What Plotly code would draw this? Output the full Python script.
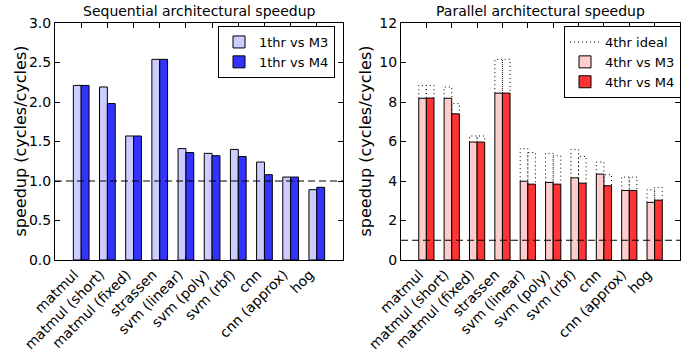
import numpy as np
import plotly.graph_objects as go

categories = ["matmul", "matmul (short)", "matmul (fixed)", "strassen", "svm (linear)",
              "svm (poly)", "svm (rbf)", "cnn", "cnn (approx)", "hog"]

seq_m3 = [2.21, 2.19, 1.57, 2.54, 1.41, 1.35, 1.40, 1.24, 1.05, 0.89]
seq_m4 = [2.21, 1.98, 1.57, 2.54, 1.36, 1.32, 1.31, 1.08, 1.05, 0.92]

par_m3 = [8.19, 8.19, 5.97, 8.45, 3.99, 3.93, 4.16, 4.35, 3.52, 2.92]
par_m4 = [8.20, 7.40, 5.97, 8.45, 3.84, 3.84, 3.89, 3.76, 3.52, 3.03]

ideal_m3 = [8.84, 8.76, 6.28, 10.16, 5.64, 5.40, 5.60, 4.96, 4.20, 3.56]
ideal_m4 = [8.84, 7.92, 6.28, 10.16, 5.44, 5.28, 5.24, 4.32, 4.20, 3.68]

seq_ticks = [0.0, 0.5, 1.0, 1.5, 2.0, 2.5, 3.0]
par_ticks = [0, 2, 4, 6, 8, 10, 12]

FONT = "DejaVu Sans"
W = 0.3
idx = np.arange(len(categories))

# figure geometry (pixels)
FW, FH = 682, 354
ML, MR, MT, MB = 55, 2, 23, 94
PW = FW - ML - MR
PH = FH - MT - MB


def px_x(p):
    return (p - ML) / PW


def px_y(p):
    return (FH - MB - p) / PH


fig = go.Figure()

fig.add_trace(go.Bar(x=idx, y=seq_m3, width=W, offset=-W, name="1thr vs M3",
                     marker=dict(color="#ccccff", line=dict(color="black", width=1)),
                     xaxis="x", yaxis="y", legend="legend"))
fig.add_trace(go.Bar(x=idx, y=seq_m4, width=W, offset=0, name="1thr vs M4",
                     marker=dict(color="#3333ff", line=dict(color="black", width=1)),
                     xaxis="x", yaxis="y", legend="legend"))

xs, ys = [], []
for i in idx:
    for off, top, base in ((-W, ideal_m3[i], par_m3[i]), (0.0, ideal_m4[i], par_m4[i])):
        x0 = i + off
        x1 = x0 + W
        xs += [x0, x0, x1, x1, None]
        ys += [base, top, top, base, None]
fig.add_trace(go.Scatter(x=xs, y=ys, mode="lines", name="4thr ideal",
                         line=dict(color="black", width=1, dash="1px,3px"),
                         xaxis="x2", yaxis="y2", legend="legend2"))

fig.add_trace(go.Bar(x=idx, y=par_m3, width=W, offset=-W, name="4thr vs M3",
                     marker=dict(color="#ffcccc", line=dict(color="black", width=1)),
                     xaxis="x2", yaxis="y2", legend="legend2"))
fig.add_trace(go.Bar(x=idx, y=par_m4, width=W, offset=0, name="4thr vs M4",
                     marker=dict(color="#ff3333", line=dict(color="black", width=1)),
                     xaxis="x2", yaxis="y2", legend="legend2"))

xcommon = dict(range=[-1, 10], tickmode="array", tickvals=list(idx), ticktext=categories,
               tickangle=-45, ticks="inside", ticklen=5, tickcolor="black",
               showline=True, linecolor="black", linewidth=1, mirror="ticks",
               showgrid=False, zeroline=False, automargin=False, ticklabelshift=-7,
               tickfont=dict(family=FONT, size=14, color="black"))
ycommon = dict(ticks="inside", ticklen=5, tickcolor="black",
               showline=True, linecolor="black", linewidth=1, mirror="ticks",
               showgrid=False, zeroline=False, automargin=False,
               tickfont=dict(family=FONT, size=14, color="black"))

legfont = dict(family=FONT, size=13, color="black")
ytitle_font = dict(family=FONT, size=16, color="black")
title_font = dict(family=FONT, size=14, color="black")

fig.update_layout(
    width=FW, height=FH,
    margin=dict(l=ML, r=MR, t=MT, b=MB, autoexpand=False),
    paper_bgcolor="white", plot_bgcolor="white",
    barmode="overlay",
    font=dict(family=FONT, color="black"),
    xaxis=dict(domain=[0, px_x(343)], anchor="y", **xcommon),
    yaxis=dict(domain=[0, 1], anchor="x", range=[0, 3], tickvals=seq_ticks,
               ticktext=[f"{v:.1f}" for v in seq_ticks], **ycommon),
    xaxis2=dict(domain=[px_x(401), px_x(680)], anchor="y2", **xcommon),
    yaxis2=dict(domain=[0, 1], anchor="x2", range=[0, 12], tickvals=par_ticks,
                ticktext=[str(v) for v in par_ticks], **ycommon),
    legend=dict(x=px_x(335), xanchor="right", y=px_y(26), yanchor="top",
                bgcolor="white", bordercolor="black", borderwidth=1,
                font=legfont, tracegroupgap=0, itemwidth=30),
    legend2=dict(x=px_x(681), xanchor="right", y=px_y(26), yanchor="top",
                 bgcolor="white", bordercolor="black", borderwidth=1,
                 font=legfont, tracegroupgap=0, itemwidth=30),
    showlegend=True,
    annotations=[
        dict(text="Sequential architectural speedup", x=px_x((55 + 343) / 2), y=px_y(11),
             xref="paper", yref="paper", showarrow=False, xanchor="center", yanchor="middle",
             font=title_font),
        dict(text="Parallel architectural speedup", x=px_x((401 + 680) / 2), y=px_y(11),
             xref="paper", yref="paper", showarrow=False, xanchor="center", yanchor="middle",
             font=title_font),
        dict(text="speedup (cycles/cycles)", x=px_x(20), y=0.5, textangle=-90,
             xref="paper", yref="paper", showarrow=False, xanchor="center", yanchor="middle",
             font=ytitle_font),
        dict(text="speedup (cycles/cycles)", x=px_x(365), y=0.5, textangle=-90,
             xref="paper", yref="paper", showarrow=False, xanchor="center", yanchor="middle",
             font=ytitle_font),
    ],
    shapes=[
        dict(type="line", xref="x domain", yref="y", x0=0, x1=1, y0=1, y1=1,
             line=dict(color="black", width=1, dash="7px,4px"), layer="above"),
        dict(type="line", xref="x2 domain", yref="y2", x0=0, x1=1, y0=1, y1=1,
             line=dict(color="black", width=1, dash="7px,4px"), layer="above"),
    ],
)

fig.write_html("out.html", config={"displayModeBar": False},
               post_script="document.body.style.margin='0';document.body.style.overflow='hidden';")
